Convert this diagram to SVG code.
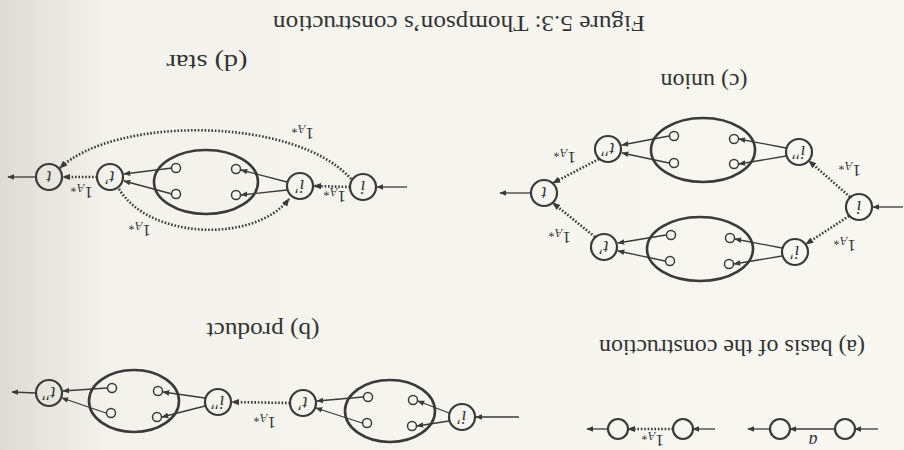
<svg xmlns="http://www.w3.org/2000/svg" width="904" height="450" viewBox="0 0 904 450">
<defs>
<linearGradient id="bg" x1="0" y1="0" x2="1" y2="0">
<stop offset="0" stop-color="#dcdbd4"/>
<stop offset="0.12" stop-color="#f3f2ec"/>
<stop offset="1" stop-color="#f8f7f1"/>
</linearGradient>
<marker id="ah" viewBox="0 0 10 10" refX="9" refY="5" markerWidth="7" markerHeight="7" markerUnits="userSpaceOnUse" orient="auto">
<path d="M0,1 L10,5 L0,9 z" fill="#3a3a3a"/>
</marker>
<marker id="ahd" viewBox="0 0 10 10" refX="9" refY="5" markerWidth="8" markerHeight="8" markerUnits="userSpaceOnUse" orient="auto">
<path d="M0,1 L10,5 L0,9 z" fill="#3a3a3a"/>
</marker>
</defs>
<style>
.st{fill:none;stroke:#3a3a3a;stroke-width:2.2}
.el{fill:none;stroke:#3a3a3a;stroke-width:2.6}
.sm{fill:none;stroke:#3a3a3a;stroke-width:1.5}
.ar{fill:none;stroke:#3a3a3a;stroke-width:1.3;marker-end:url(#ah)}
.dt{fill:none;stroke:#3a3a3a;stroke-width:2.6;stroke-dasharray:1.6 1.8;marker-end:url(#ahd)}
text{font-family:"Liberation Serif","DejaVu Serif",serif;fill:#333}
.cap{font-size:24px;text-anchor:middle}
.nl{font-size:18px;font-style:italic;text-anchor:middle}
.lb{font-size:17px;text-anchor:middle}
.sb{font-size:12px;font-style:italic}
</style>
<rect width="904" height="450" fill="url(#bg)"/>

<g id="captions">
<text class="cap" x="459" y="32" transform="rotate(180 459 24)" textLength="372" lengthAdjust="spacingAndGlyphs">Figure 5.3: Thompson’s construction</text>
<text class="cap" x="207" y="71" transform="rotate(180 207 63)" textLength="81" lengthAdjust="spacingAndGlyphs">(d) star</text>
<text class="cap" x="704" y="90" transform="rotate(180 704 82)" textLength="87" lengthAdjust="spacingAndGlyphs">(c) union</text>
<text class="cap" x="263" y="339" transform="rotate(180 263 331)" textLength="113" lengthAdjust="spacingAndGlyphs">(b) product</text>
<text class="cap" x="732" y="356" transform="rotate(180 732 348)" textLength="266" lengthAdjust="spacingAndGlyphs">(a) basis of the construction</text>
</g>

<!-- star (d) -->
<g id="star-t"><circle class="st" cx="49" cy="177" r="13"/><text class="nl" x="49" y="183" transform="rotate(180 49 177)">t</text></g>
<g id="star-tp"><circle class="st" cx="110" cy="177" r="13"/><text class="nl" x="110" y="183" transform="rotate(180 110 177)">t′</text></g>
<g id="star-box"><ellipse class="el" cx="206" cy="182" rx="52" ry="32"/>
<circle class="sm" cx="176" cy="168" r="4.5"/><circle class="sm" cx="176" cy="194" r="4.5"/>
<circle class="sm" cx="236" cy="169" r="4.5"/><circle class="sm" cx="236" cy="195" r="4.5"/></g>
<g id="star-ip"><circle class="st" cx="300" cy="186" r="13"/><text class="nl" x="300" y="192" transform="rotate(180 300 186)">i′</text></g>
<g id="star-i"><circle class="st" cx="363" cy="187" r="13"/><text class="nl" x="363" y="193" transform="rotate(180 363 187)">i</text></g>

<!-- union (c) -->
<g id="union-t"><circle class="st" cx="544" cy="193" r="13"/><text class="nl" x="544" y="199" transform="rotate(180 544 193)">t</text></g>
<g id="union-i"><circle class="st" cx="859" cy="207" r="13"/><text class="nl" x="859" y="213" transform="rotate(180 859 207)">i</text></g>
<g id="union-tp"><circle class="st" cx="604" cy="247" r="13"/><text class="nl" x="604" y="253" transform="rotate(180 604 247)">t′</text></g>
<g id="union-box1"><ellipse class="el" cx="700" cy="249" rx="53" ry="32"/>
<circle class="sm" cx="671" cy="235" r="4.5"/><circle class="sm" cx="670" cy="261" r="4.5"/>
<circle class="sm" cx="730" cy="238" r="4.5"/><circle class="sm" cx="729" cy="264" r="4.5"/></g>
<g id="union-ip"><circle class="st" cx="795" cy="252" r="13"/><text class="nl" x="795" y="258" transform="rotate(180 795 252)">i′</text></g>
<g id="union-tpp"><circle class="st" cx="608" cy="149" r="13"/><text class="nl" x="608" y="155" transform="rotate(180 608 149)">t′′</text></g>
<g id="union-box2"><ellipse class="el" cx="703" cy="150" rx="52" ry="32"/>
<circle class="sm" cx="674" cy="136" r="4.5"/><circle class="sm" cx="674" cy="163" r="4.5"/>
<circle class="sm" cx="734" cy="139" r="4.5"/><circle class="sm" cx="734" cy="164" r="4.5"/></g>
<g id="union-ipp"><circle class="st" cx="799" cy="152" r="13"/><text class="nl" x="799" y="158" transform="rotate(180 799 152)">i′′</text></g>

<!-- basis (a) -->
<g id="basis-1"><circle class="st" cx="845" cy="429" r="10"/></g>
<g id="basis-2"><circle class="st" cx="780" cy="429" r="10"/></g>
<g id="basis-3"><circle class="st" cx="683" cy="429" r="10"/></g>
<g id="basis-4"><circle class="st" cx="618" cy="429" r="10"/></g>

<!-- product (b) -->
<g id="prod-tpp"><circle class="st" cx="49" cy="393" r="13"/><text class="nl" x="49" y="399" transform="rotate(180 49 393)">t′′</text></g>
<g id="prod-box2"><ellipse class="el" cx="134" cy="401" rx="45" ry="31"/>
<circle class="sm" cx="112" cy="388" r="4.5"/><circle class="sm" cx="111" cy="413" r="4.5"/>
<circle class="sm" cx="158" cy="391" r="4.5"/><circle class="sm" cx="157" cy="417" r="4.5"/></g>
<g id="prod-ipp"><circle class="st" cx="218" cy="402" r="13"/><text class="nl" x="218" y="408" transform="rotate(180 218 402)">i′′</text></g>
<g id="prod-tp"><circle class="st" cx="303" cy="403" r="13"/><text class="nl" x="303" y="409" transform="rotate(180 303 403)">t′</text></g>
<g id="prod-box1"><ellipse class="el" cx="390" cy="411" rx="45" ry="31"/>
<circle class="sm" cx="368" cy="397" r="4.5"/><circle class="sm" cx="367" cy="423" r="4.5"/>
<circle class="sm" cx="413" cy="400" r="4.5"/><circle class="sm" cx="412" cy="426" r="4.5"/></g>
<g id="prod-ip"><circle class="st" cx="462" cy="417" r="13"/><text class="nl" x="462" y="423" transform="rotate(180 462 417)">i′</text></g>

<g id="connectors">
<!-- star -->
<line class="ar" x1="407" y1="187" x2="377" y2="187"/>
<line class="dt" x1="350" y1="187" x2="314" y2="186"/>
<line class="ar" x1="287" y1="182" x2="241" y2="170"/>
<line class="ar" x1="287" y1="190" x2="241" y2="195"/>
<line class="ar" x1="172" y1="168" x2="124" y2="174"/>
<line class="ar" x1="172" y1="194" x2="124" y2="181"/>
<line class="dt" x1="97" y1="177" x2="63" y2="177"/>
<line class="ar" x1="36" y1="177" x2="8" y2="177"/>
<path class="dt" d="M351,179 C295,116 115,116 60,168"/>
<path class="dt" d="M119,189 C150,240 255,243 289,199"/>
<!-- union -->
<line class="ar" x1="531" y1="193" x2="500" y2="193"/>
<line class="ar" x1="903" y1="207" x2="873" y2="207"/>
<line class="dt" x1="849" y1="216" x2="806" y2="244"/>
<line class="ar" x1="782" y1="248" x2="735" y2="239"/>
<line class="ar" x1="782" y1="256" x2="734" y2="264"/>
<line class="ar" x1="666" y1="235" x2="618" y2="243"/>
<line class="ar" x1="665" y1="261" x2="618" y2="251"/>
<line class="dt" x1="595" y1="237" x2="553" y2="203"/>
<line class="dt" x1="850" y1="197" x2="809" y2="161"/>
<line class="ar" x1="786" y1="148" x2="739" y2="139"/>
<line class="ar" x1="786" y1="156" x2="739" y2="164"/>
<line class="ar" x1="669" y1="136" x2="622" y2="145"/>
<line class="ar" x1="669" y1="163" x2="622" y2="153"/>
<line class="dt" x1="599" y1="159" x2="553" y2="183"/>
<!-- basis -->
<line class="ar" x1="878" y1="429" x2="855" y2="429"/>
<line class="ar" x1="835" y1="429" x2="790" y2="429"/>
<line class="ar" x1="770" y1="429" x2="748" y2="429"/>
<line class="ar" x1="715" y1="429" x2="693" y2="429"/>
<line class="dt" x1="673" y1="429" x2="628" y2="429"/>
<line class="ar" x1="608" y1="429" x2="587" y2="429"/>
<!-- product -->
<line class="ar" x1="36" y1="393" x2="12" y2="392"/>
<line class="ar" x1="107" y1="388" x2="63" y2="391"/>
<line class="ar" x1="106" y1="413" x2="62" y2="398"/>
<line class="ar" x1="205" y1="398" x2="163" y2="392"/>
<line class="ar" x1="205" y1="406" x2="162" y2="417"/>
<line class="dt" x1="290" y1="403" x2="232" y2="402"/>
<line class="ar" x1="363" y1="397" x2="317" y2="401"/>
<line class="ar" x1="362" y1="423" x2="316" y2="408"/>
<line class="ar" x1="449" y1="413" x2="418" y2="401"/>
<line class="ar" x1="449" y1="421" x2="417" y2="426"/>
<line class="ar" x1="519" y1="417" x2="476" y2="417"/>
</g>

<g id="edge-labels">
<text class="lb" x="82" y="197" transform="rotate(180 82 192)">1<tspan class="sb" dy="3">A*</tspan></text>
<text class="lb" x="335" y="201" transform="rotate(180 335 196)">1<tspan class="sb" dy="3">A*</tspan></text>
<text class="lb" x="303" y="138" transform="rotate(180 303 133)">1<tspan class="sb" dy="3">A*</tspan></text>
<text class="lb" x="140" y="235" transform="rotate(180 140 230)">1<tspan class="sb" dy="3">A*</tspan></text>
<text class="lb" x="845" y="250" transform="rotate(180 845 245)">1<tspan class="sb" dy="3">A*</tspan></text>
<text class="lb" x="560" y="242" transform="rotate(180 560 237)">1<tspan class="sb" dy="3">A*</tspan></text>
<text class="lb" x="850" y="175" transform="rotate(180 850 170)">1<tspan class="sb" dy="3">A*</tspan></text>
<text class="lb" x="565" y="162" transform="rotate(180 565 157)">1<tspan class="sb" dy="3">A*</tspan></text>
<text class="lb" x="653" y="445" transform="rotate(180 653 440)">1<tspan class="sb" dy="3">A*</tspan></text>
<text class="lb" x="265" y="427" transform="rotate(180 265 422)">1<tspan class="sb" dy="3">A*</tspan></text>
<text class="nl" x="813" y="445" transform="rotate(180 813 440)">a</text>
</g>
</svg>
